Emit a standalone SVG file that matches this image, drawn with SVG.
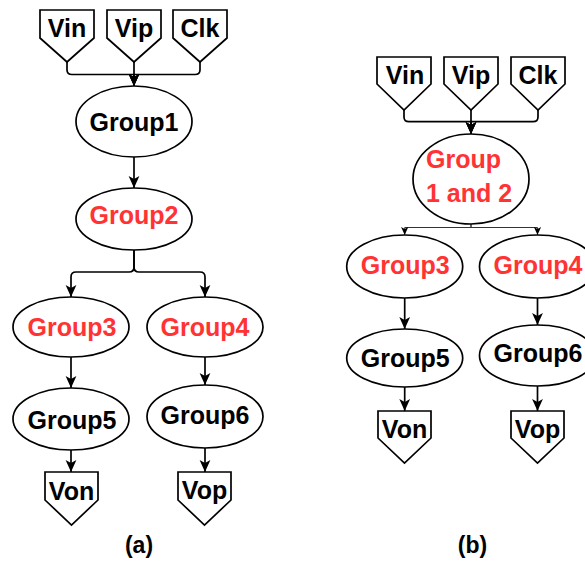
<svg xmlns="http://www.w3.org/2000/svg" width="585" height="561" viewBox="0 0 585 561">
  <style>
    .node { fill: #ffffff; stroke: #000000; stroke-width: 1.7; }
    .lbl { font-family: "Liberation Sans", Arial, sans-serif; font-weight: bold; font-size: 25px; text-anchor: middle; fill: #000000; }
    .red { fill: #ff3333; }
    .edge { fill: none; stroke: #000000; stroke-width: 1.7; }
    .thin { fill: none; stroke: #333333; stroke-width: 1; }
    .cap { font-family: "Liberation Sans", Arial, sans-serif; font-weight: bold; font-size: 23px; text-anchor: middle; fill: #000000; }
  </style>
  <defs>
    <marker id="arrow" markerUnits="userSpaceOnUse" markerWidth="12" markerHeight="12" refX="10" refY="5" orient="auto" viewBox="0 0 10 10">
      <path d="M0,0.5 L10,5 L0,9.5 L2.5,5 Z" fill="#000000"/>
    </marker>
    <marker id="arrowSmall" markerUnits="userSpaceOnUse" markerWidth="8" markerHeight="8" refX="10" refY="5" orient="auto" viewBox="0 0 10 10">
      <path d="M0,0.5 L10,5 L0,9.5 L2.5,5 Z" fill="#000000"/>
    </marker>
  </defs>

  <!-- connectors -->
  <g id="connectors">
    <!-- panel (a) -->
    <path class="edge" d="M67,62 V70 Q67,74.5 72,74.5 H134 V86" marker-end="url(#arrow)"/>
    <path class="edge" d="M134,62 V86" marker-end="url(#arrow)"/>
    <path class="edge" d="M200,62 V70 Q200,74.5 195,74.5 H134 V86" marker-end="url(#arrow)"/>
    <path class="edge" d="M134,157 V188" marker-end="url(#arrow)"/>
    <path class="edge" d="M134,250 V267 Q134,272 129,272 H76 Q71,272 71,277 V297" marker-end="url(#arrow)"/>
    <path class="edge" d="M134,250 V267 Q134,272 139,272 H200 Q205,272 205,277 V297" marker-end="url(#arrow)"/>
    <path class="edge" d="M71,357 V388" marker-end="url(#arrow)"/>
    <path class="edge" d="M205,357 V385" marker-end="url(#arrow)"/>
    <path class="edge" d="M71,450 V472" marker-end="url(#arrow)"/>
    <path class="edge" d="M205,448 V472" marker-end="url(#arrow)"/>
    <!-- panel (b) -->
    <path class="edge" d="M404,110 V117 Q404,121.7 409,121.7 H471 V134" marker-end="url(#arrow)"/>
    <path class="edge" d="M471,110 V134" marker-end="url(#arrow)"/>
    <path class="edge" d="M538,110 V117 Q538,121.7 533,121.7 H471 V134" marker-end="url(#arrow)"/>
    <path class="thin" d="M471,224 V227.5 H404.7 V235" marker-end="url(#arrowSmall)"/>
    <path class="thin" d="M471,224 V227.5 H537.5 V235" marker-end="url(#arrowSmall)"/>
    <path class="edge" d="M404.7,298 V329" marker-end="url(#arrow)"/>
    <path class="edge" d="M537.5,298 V325" marker-end="url(#arrow)"/>
    <path class="edge" d="M404.7,387 V411" marker-end="url(#arrow)"/>
    <path class="edge" d="M537.5,386 V411" marker-end="url(#arrow)"/>
  </g>

  <!-- panel (a) nodes -->
  <g id="a-vin">
    <polygon class="node" points="40,10 94,10 94,38 67,62 40,38"/>
    <text class="lbl" x="67" y="37">Vin</text>
  </g>
  <g id="a-vip">
    <polygon class="node" points="107,10 161,10 161,38 134,62 107,38"/>
    <text class="lbl" x="134" y="37">Vip</text>
  </g>
  <g id="a-clk">
    <polygon class="node" points="173,10 227,10 227,38 200,62 173,38"/>
    <text class="lbl" x="200" y="37">Clk</text>
  </g>
  <g id="a-group1">
    <ellipse class="node" cx="134" cy="121.5" rx="58" ry="35.5"/>
    <text class="lbl" x="134" y="131">Group1</text>
  </g>
  <g id="a-group2">
    <ellipse class="node" cx="134" cy="219" rx="58" ry="31"/>
    <text class="lbl red" x="134" y="224">Group2</text>
  </g>
  <g id="a-group3">
    <ellipse class="node" cx="71" cy="327" rx="58" ry="30"/>
    <text class="lbl red" x="72" y="336">Group3</text>
  </g>
  <g id="a-group4">
    <ellipse class="node" cx="205" cy="327" rx="58" ry="30"/>
    <text class="lbl red" x="205" y="336">Group4</text>
  </g>
  <g id="a-group5">
    <ellipse class="node" cx="71" cy="419" rx="58" ry="31"/>
    <text class="lbl" x="72" y="429">Group5</text>
  </g>
  <g id="a-group6">
    <ellipse class="node" cx="205" cy="416.5" rx="58" ry="31.5"/>
    <text class="lbl" x="205" y="424">Group6</text>
  </g>
  <g id="a-von">
    <polygon class="node" points="45,472 98,472 98,500 71.5,525 45,500"/>
    <text class="lbl" x="71.5" y="500">Von</text>
  </g>
  <g id="a-vop">
    <polygon class="node" points="178,472 231,472 231,500 204.5,525 178,500"/>
    <text class="lbl" x="204.5" y="499">Vop</text>
  </g>
  <text class="cap" x="139" y="553">(a)</text>

  <!-- panel (b) nodes -->
  <g id="b-vin">
    <polygon class="node" points="377,57 431,57 431,84 404,110 377,84"/>
    <text class="lbl" x="405" y="84">Vin</text>
  </g>
  <g id="b-vip">
    <polygon class="node" points="444,57 498,57 498,84 471,110 444,84"/>
    <text class="lbl" x="471" y="84">Vip</text>
  </g>
  <g id="b-clk">
    <polygon class="node" points="511,57 565,57 565,84 538,110 511,84"/>
    <text class="lbl" x="538" y="84">Clk</text>
  </g>
  <g id="b-group12">
    <ellipse class="node" cx="471" cy="179" rx="58" ry="45"/>
    <text class="lbl red" x="426" y="168" style="text-anchor:start">Group</text>
    <text class="lbl red" x="426" y="202" style="text-anchor:start">1 and 2</text>
  </g>
  <g id="b-group3">
    <ellipse class="node" cx="404.7" cy="266.5" rx="58" ry="31.5"/>
    <text class="lbl red" x="405.3" y="274">Group3</text>
  </g>
  <g id="b-group4">
    <ellipse class="node" cx="537.5" cy="266.5" rx="58" ry="31.5"/>
    <text class="lbl red" x="538" y="274">Group4</text>
  </g>
  <g id="b-group5">
    <ellipse class="node" cx="404.7" cy="358" rx="58" ry="29"/>
    <text class="lbl" x="405.3" y="367">Group5</text>
  </g>
  <g id="b-group6">
    <ellipse class="node" cx="537.5" cy="355.5" rx="58" ry="30.5"/>
    <text class="lbl" x="538" y="362">Group6</text>
  </g>
  <g id="b-von">
    <polygon class="node" points="378,411 431,411 431,438 404.5,463 378,438"/>
    <text class="lbl" x="404.5" y="438">Von</text>
  </g>
  <g id="b-vop">
    <polygon class="node" points="511,411 564,411 564,438 537.5,463 511,438"/>
    <text class="lbl" x="537.5" y="438">Vop</text>
  </g>
  <text class="cap" x="472.5" y="553">(b)</text>
</svg>
